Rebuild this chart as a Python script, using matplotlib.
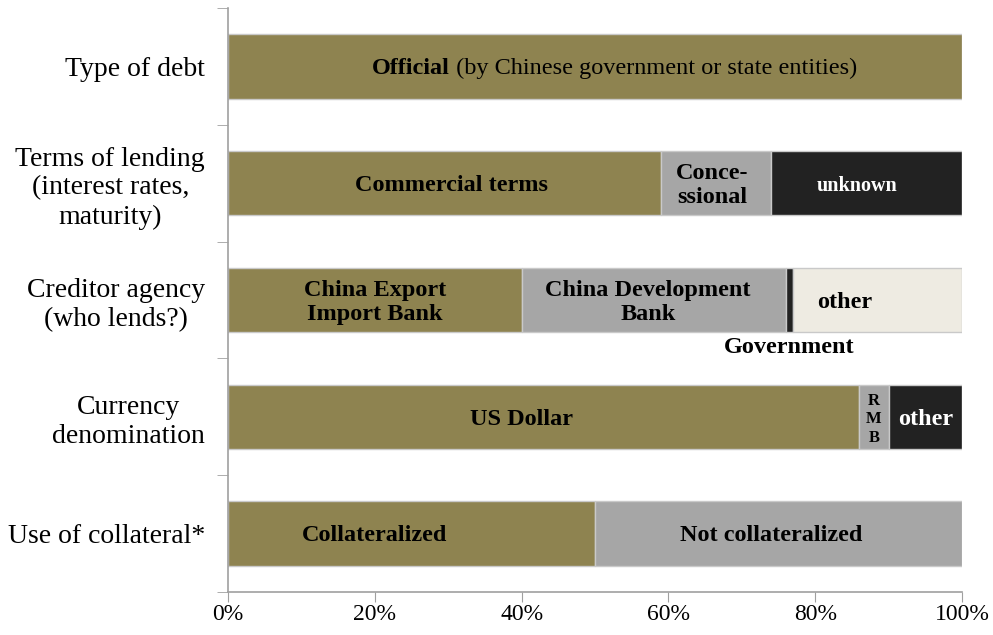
import matplotlib
matplotlib.use("Agg")
import matplotlib.pyplot as plt
import numpy as np

# ---- data -------------------------------------------------------------
categories = [
    "Type of debt",
    "Terms of lending\n(interest rates,\nmaturity)",
    "Creditor agency\n(who lends?)",
    "Currency\ndenomination",
    "Use of collateral*",
]

type_of_debt = [100]                    # Official
terms_of_lending = [59, 15, 26]         # Commercial, Concessional, unknown
creditor_agency = [40, 36, 1, 23]       # China Exim, CDB, Government, other
currency = [86, 4, 10]                  # USD, RMB, other
collateral = [50, 50]                   # Collateralized, Not collateralized

segment_labels = [
    [None],
    ["Commercial terms", "Conce-\nssional", "unknown"],
    ["China Export\nImport Bank", "China Development\nBank", None, "other"],
    ["US Dollar", "R\nM\nB", "other"],
    ["Collateralized", "Not collateralized"],
]

xticks = [0, 20, 40, 60, 80, 100]
xticklabels = ["0%", "20%", "40%", "60%", "80%", "100%"]

# ---- styling ----------------------------------------------------------
OLIVE = "#8e8350"
GRAY = "#a6a6a6"
DARK = "#222222"
CREAM = "#eeebe2"
EDGE = "#c9c9c9"
AXIS = "#a0a0a0"

rows = [type_of_debt, terms_of_lending, creditor_agency, currency, collateral]
row_colors = [
    [OLIVE],
    [OLIVE, GRAY, DARK],
    [OLIVE, GRAY, DARK, CREAM],
    [OLIVE, GRAY, DARK],
    [OLIVE, GRAY],
]
label_colors = [
    ["black"],
    ["black", "black", "white"],
    ["black", "black", "black", "black"],
    ["black", "black", "white"],
    ["black", "black"],
]
# horizontal nudges (in % units) for the labels inside segments
label_nudge = [
    [0],
    [1, -0.5, -1.3],
    [0, -0.8, 0, -4.5],
    [-3, 0, 0],
    [-5, -1],
]
label_size = [
    [17.5],
    [17.5, 17.5, 14.5],
    [17.5, 17.5, 17.5, 17.5],
    [17.5, 12, 17.5],
    [17.5, 17.5],
]

plt.rcParams["font.family"] = ["Liberation Serif", "DejaVu Serif"]

fig = plt.figure(figsize=(9.93, 6.35), dpi=100)
ax = fig.add_axes([228 / 993, 1 - 592 / 635, (962 - 228) / 993, (592 - 8) / 635])

bar_h = 0.55
for i, vals in enumerate(rows):
    left = 0
    for j, v in enumerate(vals):
        ax.barh(i, v, left=left, height=bar_h, color=row_colors[i][j],
                edgecolor=EDGE, linewidth=1.0)
        lab = segment_labels[i][j]
        if lab:
            ax.text(left + v / 2 + label_nudge[i][j], i + 0.02, lab,
                    ha="center", va="center", fontweight="bold",
                    fontsize=label_size[i][j], color=label_colors[i][j],
                    linespacing=1.2, multialignment="center")
        left += v

# "Official (by Chinese government or state entities)" — mixed weights
t_bold = ax.text(19.6, 0.02, "Official", ha="left", va="center",
                 fontweight="bold", fontsize=17.5, color="black")
ax.annotate(" (by Chinese government or state entities)",
            xy=(1, 0), xycoords=t_bold, ha="left", va="bottom",
            fontsize=17.5, color="black")

# Government label sits just below the thin creditor segment
gov_left = sum(creditor_agency[:2])
ax.text(gov_left + creditor_agency[2] / 2, 2 + bar_h / 2 + 0.13,
        "Government", ha="center", va="center", fontweight="bold",
        fontsize=17.5, color="black")

ax.set_xlim(0, 100)
ax.set_ylim(len(categories) - 0.5, -0.5)

ax.set_xticks(xticks)
ax.set_xticklabels(xticklabels, fontsize=17)
ax.set_yticks(range(len(categories)))
ax.set_yticklabels(categories, fontsize=20, linespacing=1.2,
                   multialignment="center")
ax.set_yticks(np.arange(-0.5, len(categories)), minor=True)

ax.tick_params(axis="y", which="major", length=0, pad=16.5)
ax.tick_params(axis="y", which="minor", length=8, color=AXIS, direction="out")
ax.tick_params(axis="x", length=7, color=AXIS, direction="out", pad=2)

for s in ("top", "right"):
    ax.spines[s].set_visible(False)
for s in ("left", "bottom"):
    ax.spines[s].set_color(AXIS)
    ax.spines[s].set_linewidth(1.2)

fig.savefig("out.png", dpi=100, facecolor="white")
